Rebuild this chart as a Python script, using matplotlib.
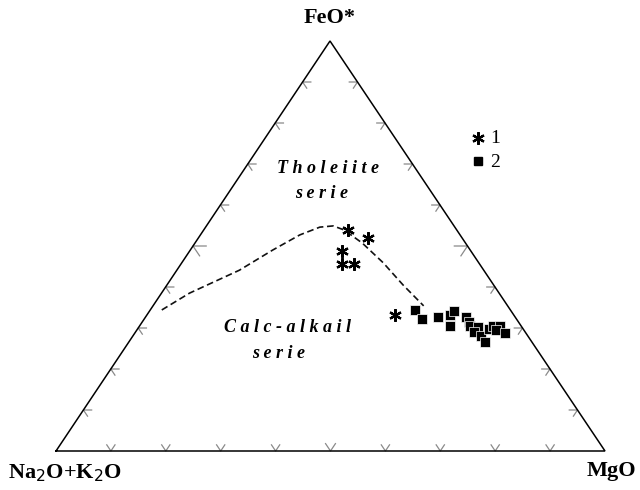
import numpy as np
import matplotlib
matplotlib.use("Agg")
import matplotlib.pyplot as plt

# ---- data (ternary percentages: FeO*, Na2O+K2O, MgO) ----
star_feo = [53.9, 52.0, 48.8, 45.6, 45.6, 33.2]
star_alk = [19.9, 17.2, 23.5, 25.1, 22.9, 21.7]
star_mgo = [26.2, 30.8, 27.7, 29.3, 31.5, 45.1]

sq_feo = [34.4, 32.2, 32.7, 33.2, 34.1, 30.5, 32.7, 31.5, 30.5, 30.2, 29.0, 28.0, 26.6, 29.8, 30.5, 30.5, 29.5, 28.8]
sq_alk = [17.4, 17.2, 14.0, 11.6, 10.5, 12.9, 8.9, 9.0, 9.3, 8.0, 9.4, 8.6, 8.6, 6.2, 5.1, 3.8, 5.0, 3.8]
sq_mgo = [48.2, 50.6, 53.3, 55.2, 55.4, 56.6, 58.4, 59.5, 60.2, 61.8, 61.6, 63.4, 64.8, 64.0, 64.4, 65.7, 65.5, 67.4]

line_feo = [34.4, 38.5, 44.1, 49.0, 52.7, 54.6, 54.9, 53.9, 50.7, 45.9, 40.5, 35.4]
line_alk = [63.5, 56.4, 44.5, 36.0, 29.2, 24.6, 22.0, 20.5, 18.8, 17.4, 16.5, 15.3]
line_mgo = [2.1, 5.1, 11.4, 15.0, 18.1, 20.8, 23.1, 25.6, 30.5, 36.7, 43.0, 49.3]

tick_vals = [10, 20, 30, 40, 50, 60, 70, 80, 90]
vertex_labels = ["FeO*", "Na$_2$O+K$_2$O", "MgO"]
legend_labels = ["1", "2"]

# ---- figure ----
fig = plt.figure(figsize=(6.4, 4.9), dpi=100)
ax = fig.add_axes([0, 0, 1, 1])
ax.set_xlim(0, 640)
ax.set_ylim(490, 0)
ax.axis("off")

VA = np.array([56.0, 451.0])   # Na2O+K2O
VM = np.array([605.0, 451.0])  # MgO
VF = np.array([330.0, 41.0])   # FeO*


def tern(f, a, m):
    f = np.asarray(f, float); a = np.asarray(a, float); m = np.asarray(m, float)
    s = f + a + m
    x = (a * VA[0] + m * VM[0] + f * VF[0]) / s
    y = (a * VA[1] + m * VM[1] + f * VF[1]) / s
    return x, y


# triangle
tx, ty = tern([0, 0, 100, 0], [100, 0, 0, 100], [0, 100, 0, 0])
ax.plot(tx, ty, color="black", lw=1.1, solid_joinstyle="miter", zorder=2)

# chevron ticks
tick_col = "#8a8a8a"
for v in tick_vals:
    L = 2.4 if v == 50 else 1.5
    Lb = 1.8 if v == 50 else 1.5
    # bottom edge (FeO=0): arms up-left (const MgO) and up-right (const alk)
    p = tern(0, 100 - v, v)
    q1 = tern(Lb, 100 - v - Lb, v)
    q2 = tern(Lb, 100 - v, v - Lb)
    ax.plot([q1[0], p[0], q2[0]], [q1[1], p[1], q2[1]], color=tick_col, lw=0.9, zorder=1)
    # left edge (MgO=0): horizontal right (const FeO) and down-right (const alk)
    p = tern(v, 100 - v, 0)
    q1 = tern(v, 100 - v - L, L)
    q2 = tern(v - L, 100 - v, L)
    ax.plot([q1[0], p[0], q2[0]], [q1[1], p[1], q2[1]], color=tick_col, lw=0.9, zorder=1)
    # right edge (alk=0): horizontal left (const FeO) and down-left (const MgO)
    p = tern(v, 0, 100 - v)
    q1 = tern(v, L, 100 - v - L)
    q2 = tern(v - L, L, 100 - v)
    ax.plot([q1[0], p[0], q2[0]], [q1[1], p[1], q2[1]], color=tick_col, lw=0.9, zorder=1)

# dividing line
lx, ly = tern(line_feo, line_alk, line_mgo)
ax.plot(lx, ly, color="#111111", lw=1.2, ls=(0, (4.0, 2.2)), zorder=3)

# data
sx, sy = tern(star_feo, star_alk, star_mgo)
ax.plot(sx, sy, ls="none", marker=(6, 2, 0), ms=9, mew=1.6, color="black", zorder=4)
qx, qy = tern(sq_feo, sq_alk, sq_mgo)
ax.plot(qx, qy, ls="none", marker="s", ms=6.5, mfc="black", mec="white", mew=0.5, zorder=4)

serif = "Liberation Serif"
# vertex labels
ax.text(VF[0], 18, vertex_labels[0], ha="center", va="center", fontsize=16,
        fontweight="bold", family=serif)
ax.text(8, 473, vertex_labels[1], ha="left", va="center", fontsize=16,
        fontweight="bold", family=serif)
ax.text(636, 471, vertex_labels[2], ha="right", va="center", fontsize=16,
        fontweight="bold", family=serif)

# field labels
ax.text(328, 168, " ".join("Tholeiite"), ha="center", va="center", fontsize=13,
        fontweight="bold", style="italic", family=serif)
ax.text(322, 193, " ".join("serie"), ha="center", va="center", fontsize=13,
        fontweight="bold", style="italic", family=serif)
ax.text(288, 327, " ".join("Calc-alkail"), ha="center", va="center", fontsize=13,
        fontweight="bold", style="italic", family=serif)
ax.text(279, 353, " ".join("serie"), ha="center", va="center", fontsize=13,
        fontweight="bold", style="italic", family=serif)

# legend
ax.plot([478], [138], ls="none", marker=(6, 2, 0), ms=9, mew=1.6, color="black")
ax.text(490, 138, legend_labels[0], ha="left", va="center", fontsize=14, family=serif)
ax.plot([478], [161], ls="none", marker="s", ms=5.5, color="black")
ax.text(490, 162, legend_labels[1], ha="left", va="center", fontsize=14, family=serif)

fig.savefig("out.png", dpi=100)
